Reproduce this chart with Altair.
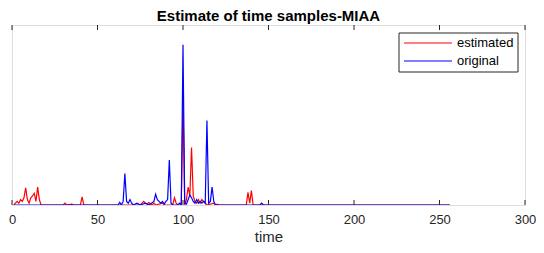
import altair as alt
import pandas as pd

# estimated series (red): sample index and amplitude
est_t = [1, 2, 3, 4, 5, 6, 7, 8, 9, 10, 11, 12, 13, 14, 15, 16, 17, 30, 31, 32, 35, 36, 37,
         40, 41, 42, 75, 76, 77, 78, 79, 80, 81, 82, 83, 84, 88, 89, 90, 94, 95, 96, 97, 99,
         100, 101, 102, 103, 104, 105, 106, 107, 108, 109, 110, 111, 112, 113, 114, 118, 119,
         120, 121, 137, 138, 139, 140, 141, 256]
est_v = [0, 0.01, 0.02, 0.01, 0.03, 0.02, 0.04, 0.095, 0.03, 0.01, 0.04, 0.05, 0.065, 0.02, 0.1, 0.03, 0, 0, 0.01, 0, 0.005, 0, 0,
         0, 0.045, 0, 0, 0.01, 0.02, 0.01, 0.005, 0.015, 0.005, 0, 0.01, 0, 0.01, 0, 0, 0, 0.04, 0.01, 0, 0,
         0.58, 0, 0.03, 0.1, 0.05, 0.32, 0.05, 0.02, 0.01, 0.03, 0.01, 0.03, 0.02, 0.01, 0, 0.01, 0,
         0.005, 0, 0, 0.07, 0.01, 0.08, 0, 0]

# original series (blue)
org_t = [1, 62, 63, 64, 65, 66, 67, 68, 69, 70, 71, 73, 74, 75, 78, 79, 80, 83, 84, 85, 86, 87, 88,
         89, 90, 91, 92, 93, 94, 97, 98, 99, 100, 101, 102, 103, 104, 105, 106, 107, 108, 109, 110,
         111, 112, 113, 114, 115, 116, 117, 118, 119, 145, 146, 147, 256]
org_v = [0, 0, 0.015, 0, 0.02, 0.175, 0.02, 0.01, 0.03, 0.01, 0, 0.01, 0.005, 0, 0.01, 0.005, 0, 0.02, 0.06, 0.03, 0.02, 0.01, 0.02,
         0.005, 0.02, 0.03, 0.25, 0.01, 0, 0, 0.01, 0, 0.89, 0.01, 0.005, 0.03, 0.055, 0.04, 0.02, 0.01, 0.03, 0.01, 0.02,
         0.01, 0.02, 0.01, 0.47, 0.01, 0.02, 0.1, 0.02, 0, 0, 0.01, 0, 0]

x_ticks = [0, 50, 100, 150, 200, 250, 300]
series_names = ["estimated", "original"]
series_colors = ["#ff0000", "#0000ff"]

df = pd.concat([
    pd.DataFrame({"time": est_t, "value": est_v, "series": "estimated"}),
    pd.DataFrame({"time": org_t, "value": org_v, "series": "original"}),
], ignore_index=True)
ticks_df = pd.DataFrame({"t": x_ticks})

W, H = 513, 180
xscale = alt.Scale(domain=[0, 300], nice=False)
yscale = alt.Scale(domain=[0, 1], nice=False)

lines = alt.Chart(df).mark_line(strokeWidth=1.2, clip=True).encode(
    x=alt.X("time:Q", scale=xscale,
            axis=alt.Axis(values=x_ticks, title="time", grid=False, ticks=False, domain=False,
                          labelFlush=False,
                          labelFontSize=13, labelColor="#262626", labelPadding=8,
                          titleFontSize=15, titleFontWeight="normal", titleColor="#262626",
                          titlePadding=3, labelFont="Liberation Sans", titleFont="Liberation Sans")),
    y=alt.Y("value:Q", scale=yscale, axis=None),
    color=alt.Color("series:N", scale=alt.Scale(domain=series_names, range=series_colors), legend=None),
    order=alt.Order("time:Q"),
)

bottom_ticks = alt.Chart(ticks_df).mark_rule(color="#262626", strokeWidth=1).encode(
    x=alt.X("t:Q", scale=xscale), y=alt.value(H), y2=alt.value(H - 5))
top_ticks = alt.Chart(ticks_df).mark_rule(color="#262626", strokeWidth=1).encode(
    x=alt.X("t:Q", scale=xscale), y=alt.value(0), y2=alt.value(5))

# legend box (MATLAB style), drawn in pixel space of the plot area
LX0, LX1, LY0, LY1 = 387, 506, 8, 47
legend_box = alt.Chart(ticks_df.head(1)).mark_rect(
    fill="white", stroke="#262626", strokeWidth=1).encode(
    x=alt.value(LX0), x2=alt.value(LX1), y=alt.value(LY0), y2=alt.value(LY1))
row_y = [18, 36]
legend_texts = []
legend_lines = []
for name, col, ry in zip(series_names, series_colors, row_y):
    legend_texts.append(alt.Chart(ticks_df.head(1)).mark_text(
        text=name, align="left", baseline="middle", fontSize=13, font="Liberation Sans",
        fill="#000000").encode(x=alt.value(LX0 + 58), y=alt.value(ry)))
    legend_lines.append(alt.Chart(ticks_df.head(1)).mark_rect(fill=col, strokeWidth=0).encode(
        x=alt.value(LX0 + 5), x2=alt.value(LX0 + 53), y=alt.value(ry - 0.6), y2=alt.value(ry + 0.6)))

chart = alt.layer(lines, bottom_ticks, top_ticks, legend_box, *legend_texts, *legend_lines).properties(
    width=W, height=H,
    title=alt.TitleParams("Estimate of time samples-MIAA", fontSize=15, fontWeight="bold",
                          font="Liberation Sans", color="#000000", offset=1),
    autosize=alt.AutoSizeParams(type="none"),
    padding={"left": 4, "top": 17, "right": 11, "bottom": 40},
).configure_view(stroke="#262626", strokeWidth=1).configure(background="white")

chart.save("out.html", embed_options={"renderer": "svg", "actions": False})
